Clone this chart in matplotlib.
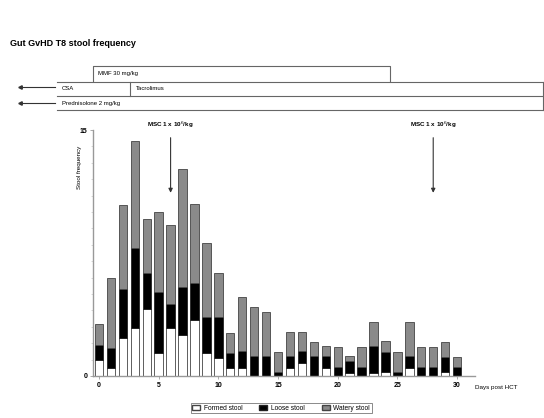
import numpy as np
import matplotlib
matplotlib.use("Agg")
import matplotlib.pyplot as plt
from matplotlib.patches import Patch

plt.rcParams['font.family'] = ['Liberation Sans', 'DejaVu Sans']

# stool frequency per day, split in three parts (bottom -> top)
days = np.arange(31)
formed = [1.0, 0.5, 2.3, 2.9, 4.1, 1.4, 2.9, 2.5, 3.4, 1.4, 1.1, 0.5, 0.5, 0, 0, 0,
          0.5, 0.8, 0, 0.5, 0, 0.2, 0, 0.2, 0.25, 0, 0.5, 0, 0, 0.25, 0]
loose = [0.9, 1.2, 3.0, 4.9, 2.2, 3.7, 1.5, 2.9, 2.3, 2.2, 2.5, 0.9, 1.0, 1.2, 1.2, 0.25,
         0.7, 0.7, 1.2, 0.7, 0.55, 0.7, 0.55, 1.6, 1.2, 0.25, 0.7, 0.55, 0.55, 0.9, 0.55]
watery = [1.3, 4.3, 5.1, 6.5, 3.3, 4.9, 4.8, 7.2, 4.8, 4.5, 2.7, 1.2, 3.3, 3.0, 2.7, 1.2,
          1.5, 1.2, 0.9, 0.6, 1.2, 0.3, 1.2, 1.5, 0.7, 1.2, 2.1, 1.2, 1.2, 0.9, 0.6]
tick_pos = [0, 5, 10, 15, 20, 25, 30]
tick_labels = ['0', '5', '10', '15', '20', '25', '30']
msc_days = [6, 28]

W, H = 544, 418
fig = plt.figure(figsize=(W / 100, H / 100), dpi=100)

def fx(x):
    return x / W

def fy(y):
    return 1 - y / H

ax = fig.add_axes([fx(93), fy(376), fx(475) - fx(93), fy(130) - fy(376)])

formed = np.array(formed)
loose = np.array(loose)
watery = np.array(watery)

bw = 0.7
ax.bar(days, formed, bw, color='white', edgecolor='#444444', linewidth=0.6)
ax.bar(days, loose, bw, bottom=formed, color='black', edgecolor='#222222', linewidth=0.6)
ax.bar(days, watery, bw, bottom=formed + loose, color='#8a8a8a', edgecolor='#444444', linewidth=0.6)

ax.set_xlim(-0.5, 31.5)
ax.set_ylim(0, 15)
ax.set_yticks([0, 15])
ax.set_yticks(np.arange(1, 15, 1), minor=True)
ax.set_xticks(tick_pos)
ax.set_xticklabels(tick_labels, fontsize=5, fontweight='bold')
ax.set_yticklabels(['0', '15'], fontsize=5, fontweight='bold')
ax.tick_params(axis='both', length=2, width=0.5, color='#888888', pad=2)
ax.tick_params(axis='y', which='minor', length=1.5, width=0.4, color='#bbbbbb')
for s in ['top', 'right']:
    ax.spines[s].set_visible(False)
ax.spines['left'].set_color('#999999')
ax.spines['bottom'].set_color('#999999')
ax.spines['left'].set_linewidth(1.0)
ax.spines['bottom'].set_linewidth(1.0)
ax.set_ylabel('Stool frequency', fontsize=4.5, labelpad=2)
ax.yaxis.set_label_coords(-0.03, 0.85)
ax.text(1.0, -0.035, 'Days post HCT', transform=ax.transAxes, fontsize=4.5,
        ha='left', va='top')

# MSC infusion arrows
for d in msc_days:
    ax.annotate('', xy=(d, 11.0), xytext=(d, 14.7),
                arrowprops=dict(arrowstyle='-|>', color='#333333', lw=0.8,
                                mutation_scale=6), annotation_clip=False)
    ax.text(d, 15.0, 'MSC 1 x 10$^6$/kg', fontsize=4.5, ha='center', va='bottom',
            fontweight='bold', clip_on=False)

# title
fig.text(fx(10), fy(43), 'Gut GvHD T8 stool frequency', fontsize=6.5,
         fontweight='bold', ha='left', va='center')

# treatment timeline above the chart
lc = '#666666'
# MMF bracket
fig.add_artist(plt.Line2D([fx(93), fx(93), fx(390), fx(390)],
                          [fy(81), fy(66), fy(66), fy(81)], color=lc, lw=0.8))
fig.text(fx(98), fy(74), 'MMF 30 mg/kg', fontsize=4.3, ha='left', va='center')
# rows
for y in [82, 96, 110]:
    fig.add_artist(plt.Line2D([fx(57), fx(543)], [fy(y), fy(y)], color=lc, lw=0.8))
fig.add_artist(plt.Line2D([fx(543), fx(543)], [fy(82), fy(110)], color=lc, lw=0.8))
fig.add_artist(plt.Line2D([fx(130), fx(130)], [fy(82), fy(96)], color=lc, lw=0.8))
fig.text(fx(62), fy(89), 'CSA', fontsize=4.3, ha='left', va='center')
fig.text(fx(136), fy(89), 'Tacrolimus', fontsize=4.3, ha='left', va='center')
fig.text(fx(62), fy(103), 'Prednisolone 2 mg/kg', fontsize=4.3, ha='left', va='center')
for y in [87, 103]:
    fig.add_artist(plt.Line2D([fx(20), fx(55)], [fy(y), fy(y)], color='#333333', lw=0.8))
    fig.add_artist(plt.Line2D([fx(20)], [fy(y)], marker='<', markersize=2.5,
                              color='#333333'))

# legend at bottom
handles = [Patch(facecolor='white', edgecolor='#444444', label='Formed stool'),
           Patch(facecolor='black', edgecolor='#222222', label='Loose stool'),
           Patch(facecolor='#8a8a8a', edgecolor='#444444', label='Watery stool')]
leg = fig.legend(handles=handles, loc='center', bbox_to_anchor=(fx(281), fy(408)),
                 ncol=3, fontsize=4.8, frameon=True, fancybox=False,
                 handlelength=1.2, handleheight=0.8, columnspacing=2.6,
                 borderpad=0.25, handletextpad=0.5)
leg.get_frame().set_edgecolor('#555555')
leg.get_frame().set_linewidth(0.6)

fig.savefig('out.png', dpi=100)
